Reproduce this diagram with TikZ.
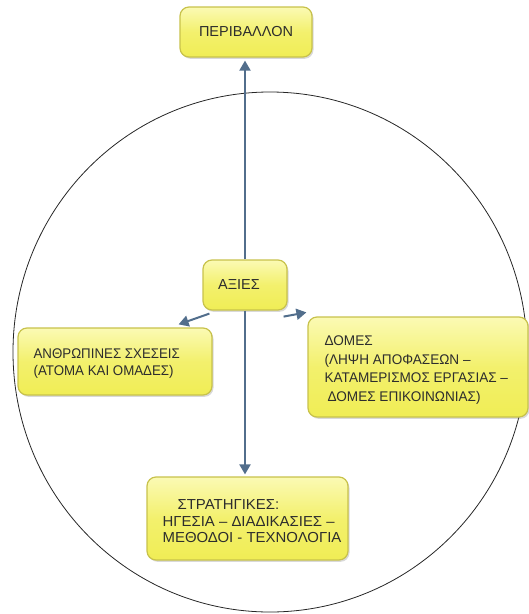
\documentclass[tikz,border=0pt]{standalone}
\usepackage{fontspec}
\setmainfont{Liberation Sans}
\newfontfamily\humfont[FakeStretch=0.95]{Liberation Sans}
\newfontfamily\strfont[FakeStretch=0.97]{Liberation Sans}
\newfontfamily\stgfont[FakeStretch=1.03]{Liberation Sans}
\usetikzlibrary{arrows.meta,shadows}
\definecolor{boxtop}{RGB}{251,250,180}
\definecolor{boxbot}{RGB}{240,237,85}
\definecolor{boxline}{RGB}{200,194,75}
\definecolor{arrowcol}{RGB}{82,110,140}
\definecolor{txt}{RGB}{45,45,45}
\tikzset{
  ybox/.style={draw=boxline, line width=1.2pt, rounded corners=9pt,
    top color=boxtop, bottom color=boxbot, middle color=boxbot!75!boxtop,
    drop shadow={shadow xshift=1.5pt, shadow yshift=-1.8pt, opacity=0.3},
    font=\fontsize{14.5}{17}\selectfont, text=txt, inner sep=0pt},
  btext/.style={anchor=west, align=left, text=txt, inner sep=0pt},
  conn/.style={draw=arrowcol, line width=2pt,
    -{Triangle[length=10pt,width=11pt]}},
  ring/.style={draw=black!85, line width=0.8pt}
}
\begin{document}
\begin{tikzpicture}[x=1pt,y=-1pt]
\useasboundingbox (0,0) rectangle (529,614);
\draw[ring] (270,352) ellipse [x radius=257, y radius=260];
\node[ybox, minimum width=132pt, minimum height=50pt] (env) at (246,32) {ΠΕΡΙΒΑΛΛΟΝ};
\node[ybox, minimum width=84pt, minimum height=50pt] (val) at (245,285) {\hspace*{-12pt}ΑΞΙΕΣ};
\node[ybox, minimum width=194pt, minimum height=67pt] (hum) at (115,361.5) {};
\node[btext, font=\humfont\fontsize{14}{17}\selectfont] (humt) at ([xshift=16pt,yshift=-2pt]hum.west)
  {ΑΝΘΡΩΠΙΝΕΣ ΣΧΕΣΕΙΣ\\(ΑΤΟΜΑ ΚΑΙ ΟΜΑΔΕΣ)};
\node[ybox, minimum width=220pt, minimum height=100pt] (str) at (418,367) {};
\node[btext, font=\strfont\fontsize{14}{18.5}\selectfont] (strt) at ([xshift=17pt,yshift=-3pt]str.west)
  {ΔΟΜΕΣ\\(ΛΗΨΗ ΑΠΟΦΑΣΕΩΝ –\\ΚΑΤΑΜΕΡΙΣΜΟΣ ΕΡΓΑΣΙΑΣ –\\\hspace*{3pt}ΔΟΜΕΣ ΕΠΙΚΟΙΝΩΝΙΑΣ)};
\node[ybox, minimum width=201pt, minimum height=83pt] (stg) at (247.5,518.5) {};
\node[btext, font=\stgfont\fontsize{14.5}{16.5}\selectfont] (stgt) at ([xshift=16pt,yshift=-3pt]stg.west)
  {\hspace*{15pt}ΣΤΡΑΤΗΓΙΚΕΣ:\\ΗΓΕΣΙΑ – ΔΙΑΔΙΚΑΣΙΕΣ –\\ΜΕΘΟΔΟΙ - ΤΕΧΝΟΛΟΓΙΑ};
\draw[conn] (val.north) -- ([yshift=-3pt]val.north |- env.south);
\draw[conn] (val.south) -- ([yshift=2pt]val.south |- stg.north);
\draw[conn] ([xshift=7pt,yshift=-3pt]val.south west) -- ([xshift=-34pt,yshift=3pt]hum.north east);
\draw[conn] ([xshift=-4pt,yshift=-6pt]val.south east) -- ([xshift=-1pt,yshift=4pt]str.north west);
\end{tikzpicture}
\end{document}
